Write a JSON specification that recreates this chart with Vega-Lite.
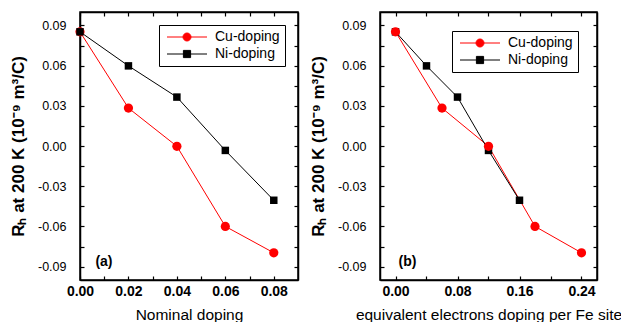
{
  "$schema": "https://vega.github.io/schema/vega-lite/v6.json",
  "padding": {"left": 8, "top": 10, "right": 0, "bottom": 0},
  "spacing": 8,
  "resolve": {"scale": {"color": "independent", "stroke": "independent", "shape": "independent", "size": "independent"}, "legend": {"color": "independent", "stroke": "independent", "shape": "independent", "size": "independent"}},
  "data": {"values": [
    {"series": "Cu-doping", "nominal": 0, "equiv": 0, "rh": 0.0852},
    {"series": "Cu-doping", "nominal": 0.02, "equiv": 0.06, "rh": 0.0283},
    {"series": "Cu-doping", "nominal": 0.04, "equiv": 0.12, "rh": -0.0002},
    {"series": "Cu-doping", "nominal": 0.06, "equiv": 0.18, "rh": -0.06},
    {"series": "Cu-doping", "nominal": 0.08, "equiv": 0.24, "rh": -0.0797},
    {"series": "Ni-doping", "nominal": 0, "equiv": 0, "rh": 0.0852},
    {"series": "Ni-doping", "nominal": 0.02, "equiv": 0.04, "rh": 0.0598},
    {"series": "Ni-doping", "nominal": 0.04, "equiv": 0.08, "rh": 0.0365},
    {"series": "Ni-doping", "nominal": 0.06, "equiv": 0.12, "rh": -0.0033},
    {"series": "Ni-doping", "nominal": 0.08, "equiv": 0.16, "rh": -0.0405}
  ]},
  "hconcat": [
    {
      "width": 218,
      "height": 268,
      "resolve": {"scale": {"x": "independent", "y": "independent"}, "axis": {"x": "independent", "y": "independent"}},
      "layer": [
        {
          "mark": {"type": "line", "strokeWidth": 1},
          "encoding": {
            "x": {"field": "nominal", "type": "quantitative", "scale": {"domain": [0, 0.09], "nice": false, "zero": false},
              "axis": {"orient": "bottom", "title": "Nominal doping", "ticks": true, "tickSize": -4, "domain": true, "labelFlush": false, "labelOverlap": false, "values": [0, 0.01, 0.02, 0.03, 0.04, 0.05, 0.06, 0.07, 0.08], "labelExpr": "abs(datum.value * 50 - round(datum.value * 50)) < 0.001 ? format(datum.value, '.2f') : ''", "labelFontWeight": "bold", "labelFontSize": 14, "labelPadding": 8, "titleFontSize": 15.5, "titleFontWeight": "normal", "titlePadding": 9}},
            "y": {"field": "rh", "type": "quantitative", "scale": {"domain": [-0.1, 0.1], "nice": false, "zero": false},
              "axis": {"orient": "left", "title": "Rₕ at 200 K (10⁻⁹ m³/C)", "ticks": true, "tickSize": -4, "domain": true, "labelFlush": false, "labelOverlap": false, "values": [-0.09, -0.075, -0.06, -0.045, -0.03, -0.015, 0, 0.015, 0.03, 0.045, 0.06, 0.075, 0.09], "labelExpr": "abs(datum.value / 0.03 - round(datum.value / 0.03)) < 0.001 ? replace(format(datum.value, '.2f'), '−', '-') : ''", "labelFontSize": 12.5, "labelPadding": 18, "titleFontSize": 17, "titleFontWeight": "bold", "titlePadding": 10}},
            "stroke": {"field": "series", "type": "nominal", "scale": {"range": ["#ff0000", "#000000"]}, "legend": null}
          }
        },
        {
          "mark": {"type": "point", "filled": true, "opacity": 1},
          "encoding": {
            "x": {"field": "nominal", "type": "quantitative", "scale": {"domain": [0, 0.09], "nice": false, "zero": false},
              "axis": {"orient": "top", "title": null, "labels": false, "domain": true, "ticks": true, "tickSize": -4, "values": [0, 0.01, 0.02, 0.03, 0.04, 0.05, 0.06, 0.07, 0.08]}},
            "y": {"field": "rh", "type": "quantitative", "scale": {"domain": [-0.1, 0.1], "nice": false, "zero": false},
              "axis": {"orient": "right", "title": null, "labels": false, "domain": true, "ticks": true, "tickSize": -4, "values": [-0.09, -0.075, -0.06, -0.045, -0.03, -0.015, 0, 0.015, 0.03, 0.045, 0.06, 0.075, 0.09]}},
            "color": {"field": "series", "type": "nominal", "scale": {"domain": ["Cu-doping", "Ni-doping"], "range": ["#ff0000", "#000000"]},
              "legend": {"title": null, "orient": "top-right", "offset": 13, "strokeColor": "black", "fillColor": "white", "padding": 5, "symbolOffset": 16, "labelOffset": 21, "rowPadding": 3, "labelFontSize": 14, "symbolSize": 64, "symbolOpacity": 1, "symbolStrokeWidth": 1,
                "symbolType": {"expr": "datum.value === 'Cu-doping' ? 'M-5,0H5M1,0A1,1,0,1,1,-1,0A1,1,0,1,1,1,0Z' : 'M-5,0H5M-0.9,-0.9H0.9V0.9H-0.9Z'"},
                "symbolStrokeColor": {"expr": "datum.value === 'Cu-doping' ? '#ff0000' : '#000000'"}}},
            "shape": {"field": "series", "type": "nominal", "scale": {"range": ["circle", "square"]}, "legend": null},
            "size": {"field": "series", "type": "nominal", "scale": {"range": [85, 56]}, "legend": null},
            "order": {"field": "series", "type": "nominal", "sort": "ascending"}
          }
        },
        {
          "data": {"values": [{"lx": 0.0099, "ly": -0.0868, "label": "(a)"}]},
          "mark": {"type": "text", "fontWeight": "bold", "fontSize": 14, "font": "Liberation Sans", "color": "black"},
          "encoding": {
            "x": {"field": "lx", "type": "quantitative", "scale": {"domain": [0, 0.09], "nice": false, "zero": false}, "axis": null},
            "y": {"field": "ly", "type": "quantitative", "scale": {"domain": [-0.1, 0.1], "nice": false, "zero": false}, "axis": null},
            "text": {"field": "label"}
          }
        }
      ]
    },
    {
      "width": 217,
      "height": 268,
      "resolve": {"scale": {"x": "independent", "y": "independent"}, "axis": {"x": "independent", "y": "independent"}},
      "layer": [
        {
          "mark": {"type": "line", "strokeWidth": 1},
          "encoding": {
            "x": {"field": "equiv", "type": "quantitative", "scale": {"domain": [-0.02, 0.26], "nice": false, "zero": false},
              "axis": {"orient": "bottom", "title": "equivalent electrons doping per Fe site", "ticks": true, "tickSize": -4, "domain": true, "labelFlush": false, "labelOverlap": false, "values": [0, 0.04, 0.08, 0.12, 0.16, 0.2, 0.24], "labelExpr": "abs(datum.value * 12.5 - round(datum.value * 12.5)) < 0.001 ? format(datum.value, '.2f') : ''", "labelFontWeight": "bold", "labelFontSize": 14, "labelPadding": 8, "titleFontSize": 15.5, "titleFontWeight": "normal", "titlePadding": 9}},
            "y": {"field": "rh", "type": "quantitative", "scale": {"domain": [-0.1, 0.1], "nice": false, "zero": false},
              "axis": {"orient": "left", "title": "Rₕ at 200 K (10⁻⁹ m³/C)", "ticks": true, "tickSize": -4, "domain": true, "labelFlush": false, "labelOverlap": false, "values": [-0.09, -0.075, -0.06, -0.045, -0.03, -0.015, 0, 0.015, 0.03, 0.045, 0.06, 0.075, 0.09], "labelExpr": "abs(datum.value / 0.03 - round(datum.value / 0.03)) < 0.001 ? replace(format(datum.value, '.2f'), '−', '-') : ''", "labelFontSize": 12.5, "labelPadding": 18, "titleFontSize": 17, "titleFontWeight": "bold", "titlePadding": 10}},
            "stroke": {"field": "series", "type": "nominal", "scale": {"range": ["#ff0000", "#000000"]}, "legend": null}
          }
        },
        {
          "mark": {"type": "point", "filled": true, "opacity": 1},
          "encoding": {
            "x": {"field": "equiv", "type": "quantitative", "scale": {"domain": [-0.02, 0.26], "nice": false, "zero": false},
              "axis": {"orient": "top", "title": null, "labels": false, "domain": true, "ticks": true, "tickSize": -4, "values": [0, 0.04, 0.08, 0.12, 0.16, 0.2, 0.24]}},
            "y": {"field": "rh", "type": "quantitative", "scale": {"domain": [-0.1, 0.1], "nice": false, "zero": false},
              "axis": {"orient": "right", "title": null, "labels": false, "domain": true, "ticks": true, "tickSize": -4, "values": [-0.09, -0.075, -0.06, -0.045, -0.03, -0.015, 0, 0.015, 0.03, 0.045, 0.06, 0.075, 0.09]}},
            "color": {"field": "series", "type": "nominal", "scale": {"domain": ["Cu-doping", "Ni-doping"], "range": ["#ff0000", "#000000"]},
              "legend": {"title": null, "orient": "top-right", "offset": 19, "strokeColor": "black", "fillColor": "white", "padding": 5, "symbolOffset": 16, "labelOffset": 21, "rowPadding": 3, "labelFontSize": 14, "symbolSize": 64, "symbolOpacity": 1, "symbolStrokeWidth": 1,
                "symbolType": {"expr": "datum.value === 'Cu-doping' ? 'M-5,0H5M1,0A1,1,0,1,1,-1,0A1,1,0,1,1,1,0Z' : 'M-5,0H5M-0.9,-0.9H0.9V0.9H-0.9Z'"},
                "symbolStrokeColor": {"expr": "datum.value === 'Cu-doping' ? '#ff0000' : '#000000'"}}},
            "shape": {"field": "series", "type": "nominal", "scale": {"range": ["circle", "square"]}, "legend": null},
            "size": {"field": "series", "type": "nominal", "scale": {"range": [85, 56]}, "legend": null},
            "order": {"field": "series", "type": "nominal", "sort": "descending"}
          }
        },
        {
          "data": {"values": [{"lx": 0.0155, "ly": -0.0868, "label": "(b)"}]},
          "mark": {"type": "text", "fontWeight": "bold", "fontSize": 14, "font": "Liberation Sans", "color": "black"},
          "encoding": {
            "x": {"field": "lx", "type": "quantitative", "scale": {"domain": [-0.02, 0.26], "nice": false, "zero": false}, "axis": null},
            "y": {"field": "ly", "type": "quantitative", "scale": {"domain": [-0.1, 0.1], "nice": false, "zero": false}, "axis": null},
            "text": {"field": "label"}
          }
        }
      ]
    }
  ],
  "config": {
    "font": "Liberation Sans",
    "view": {"stroke": "black", "strokeWidth": 1.5},
    "axis": {"grid": false, "labelColor": "black", "titleColor": "black", "tickColor": "black", "tickWidth": 1.2, "domainColor": "black", "domainWidth": 1.5, "labelFont": "Liberation Sans", "titleFont": "Liberation Sans"},
    "legend": {"labelFont": "Liberation Sans", "labelColor": "black"}
  }
}
